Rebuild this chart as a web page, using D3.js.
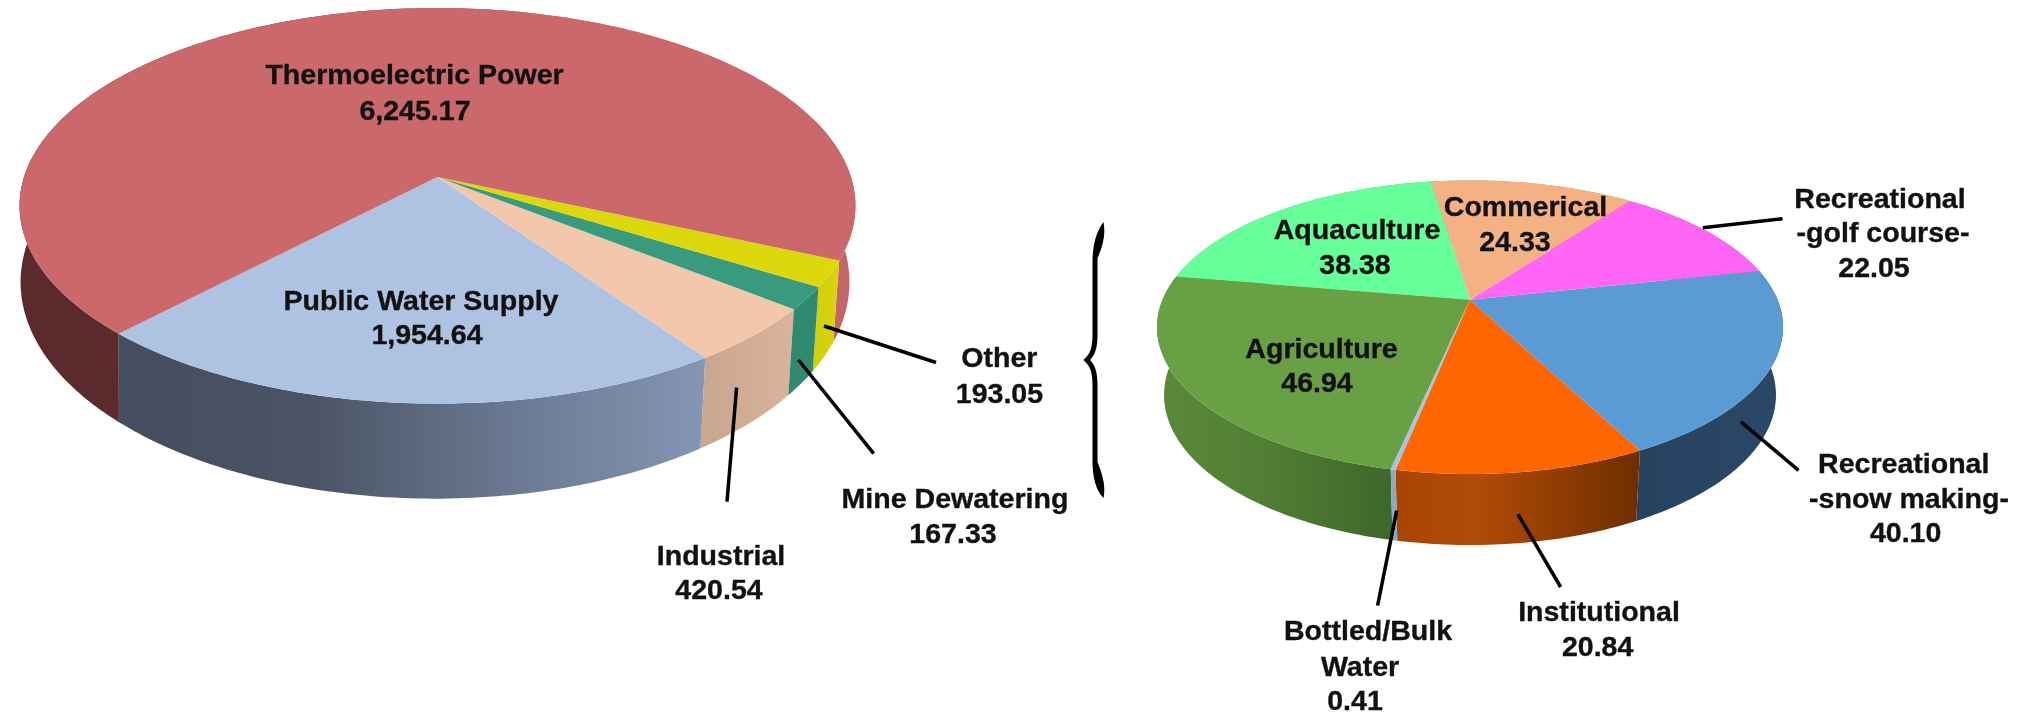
<!DOCTYPE html>
<html><head><meta charset="utf-8">
<script src="https://cdnjs.cloudflare.com/ajax/libs/d3/7.8.5/d3.min.js"></script>
<style>html,body{margin:0;padding:0;background:#fff}svg{display:block;filter:blur(0.5px)}
text{font-family:"Liberation Sans",Arial,sans-serif;font-weight:700;font-size:28px;fill:#111;stroke:#111;stroke-width:.35px}</style>
</head><body><svg id="c" width="2030" height="715"></svg>
<script>
const mainCategories=["Public Water Supply","Industrial","Mine Dewatering","Other","Thermoelectric Power"];
const mainValues=[1954.64,420.54,167.33,193.05,6245.17];
const otherCategories=["Institutional","Recreational -snow making-","Recreational -golf course-","Commerical","Aquaculture","Agriculture","Bottled/Bulk Water"];
const otherValues=[20.84,40.10,22.05,24.33,38.38,46.94,0.41];

const mainTop=["#aec3e2","#f3c7ab","#3a9a7e","#dcd80c","#cb686b"];
const mainSide=[["#454e5f","#4b5465","#6a7991","#8496b4"],["#c9a68e","#d9b49a"],["#2f8a70","#2f8a70"],["#d4cf0c","#d8d40e"],["#5a2a2d","#5a2a2d","#c46668","#c46668"]];
const otherTop=["#ff6600","#5b9bd5","#ff66f5","#f4b183","#66ff99","#6aa045","#a5c4e4"];
const otherSide=[["#a84503","#b24b08","#8f3c02","#6e2e00"],["#26425f","#2a4868"],["#c050b8","#c050b8"],["#c08a60","#c08a60"],["#4cc078","#4cc078"],["#5b8a3a","#4f7d33","#3e672a"],["#8aa8c8","#8aa8c8"]];

const fmt=d3.format(",.2f");
const rad=d=>d*Math.PI/180;
const svg=d3.select("#c");
const defs=svg.append("defs");

function drawPie(o){
  const arcs=d3.pie().sort(null).startAngle(rad(o.start)).endAngle(rad(o.start+360))(o.values);
  const x=d3.scaleLinear().domain([0,1]).range([o.cx,o.cx+o.sx]);
  const y=d3.scaleLinear().domain([0,1]).range([o.cy,o.cy+o.sy]);
  const xb=d3.scaleLinear().domain([0,1]).range([o.bcx,o.bcx+o.bsx]);
  const yb=d3.scaleLinear().domain([0,1]).range([o.bcy,o.bcy+o.bsy]);
  const rim=(a,sx,sy,k)=>{const u=Math.sin(a),v=Math.cos(a),w=1-k*v;return [sx(u/w),sy(v/w)];};
  const top=a=>rim(a,x,y,o.k), bot=a=>rim(a,xb,yb,o.k);
  const line=d3.line();
  const steps=(a,b)=>d3.range(0,1.0001,1/Math.max(2,Math.ceil(Math.abs(b-a)*60))).map(t=>a+(b-a)*t);
  const order=arcs.map((d,i)=>i).sort((p,q)=>o.values[q]-o.values[p]);
  order.forEach(i=>{
    const d=arcs[i],ts=steps(d.startAngle,d.endAngle);
    const pts=ts.map(top).concat(ts.slice().reverse().map(bot));
    const id=o.id+"g"+i;
    const ext=d3.extent(ts.map(top),p=>p[0]);
    const g=defs.append("linearGradient").attr("id",id).attr("gradientUnits","userSpaceOnUse")
      .attr("x1",ext[0]).attr("x2",ext[1]).attr("y1",0).attr("y2",0);
    o.side[i].forEach((c,j,a)=>g.append("stop").attr("offset",j/(a.length-1)).attr("stop-color",c));
    svg.append("path").attr("d",line(pts)+"Z").attr("fill",`url(#${id})`);
  });
  arcs.forEach((d,i)=>{
    const pts=[[x(0),y(0)]].concat(steps(d.startAngle,d.endAngle).map(top));
    svg.append("path").attr("d",line(pts)+"Z").attr("fill",o.top[i]);
  });
}

drawPie({id:"m",values:mainValues,top:mainTop,side:mainSide,start:-43.6,k:0.1457,
  cx:437.5,cy:177,sx:413.5,sy:193.6,bcx:435,bsx:410,bcy:250.5,bsy:212});
drawPie({id:"o",values:otherValues,top:otherTop,side:otherSide,start:-11.4,k:0.1867,
  cx:1470,cy:299.8,sx:307.5,sy:141.7,bcx:1470,bsx:300.6,bcy:367,bsy:144.8});

// annotation layout, kept apart from the data
const leaders=[
 [[824,326],[936,362.5]],[[798.5,360],[873.7,453.7]],[[736.6,387.6],[727,501.6]],
 [[1702.8,227.8],[1782.5,218.8]],[[1741,421.8],[1798.5,470.3]],[[1518,514.3],[1560.6,587]],[[1396.7,510.6],[1377.6,605.7]]];
svg.append("g").selectAll("line").data(leaders).join("line")
 .attr("x1",d=>d[0][0]).attr("y1",d=>d[0][1]).attr("x2",d=>d[1][0]).attr("y2",d=>d[1][1])
 .attr("stroke","#000").attr("stroke-width",3.5);

svg.append("path").attr("fill","#000")
 .attr("d","M1103.5,222 C1099,228 1092.5,240 1092.5,262 L1092.5,335 C1092.5,350 1089,355 1083.5,360 C1089,365 1092.5,370 1092.5,385 L1092.5,460 C1092.5,482 1098,492 1103.5,498 C1105.5,488 1104,478 1097.5,462 L1097.5,385 C1097.5,372 1095,365 1090,360 C1095,355 1097.5,348 1097.5,335 L1097.5,258 C1104,244 1105.5,232 1103.5,222 Z");

const labels=[
 [mainCategories[4],414.5,83.5],[fmt(mainValues[4]),415,119.5],
 [mainCategories[0],421,310],[fmt(mainValues[0]),427,344],
 [mainCategories[1],721,565],[fmt(mainValues[1]),719,599],
 [mainCategories[2],955,507.5],[fmt(mainValues[2]),953,542.6],
 [mainCategories[3],999.4,367],[fmt(mainValues[3]),999.4,402.6],
 ["Recreational",1880,207.6],["-golf course-",1883,242],[fmt(otherValues[2]),1874,277],
 [otherCategories[3],1525.5,216],[fmt(otherValues[3]),1515,251],
 [otherCategories[4],1357,239],[fmt(otherValues[4]),1355,274],
 [otherCategories[5],1321.5,357.6],[fmt(otherValues[5]),1317,392],
 ["Recreational",1903.7,472.5],["-snow making-",1909,507.6],[fmt(otherValues[1]),1905.6,541.6],
 [otherCategories[0],1599,621],[fmt(otherValues[0]),1597.6,656],
 ["Bottled/Bulk",1368,640],["Water",1360,675.5],[fmt(otherValues[6]),1355,709.5]];
svg.append("g").selectAll("text").data(labels).join("text")
 .attr("transform",d=>`translate(${d[1]},${d[2]}) scale(1.02,1)`).attr("text-anchor","middle").text(d=>d[0]);
</script></body></html>
